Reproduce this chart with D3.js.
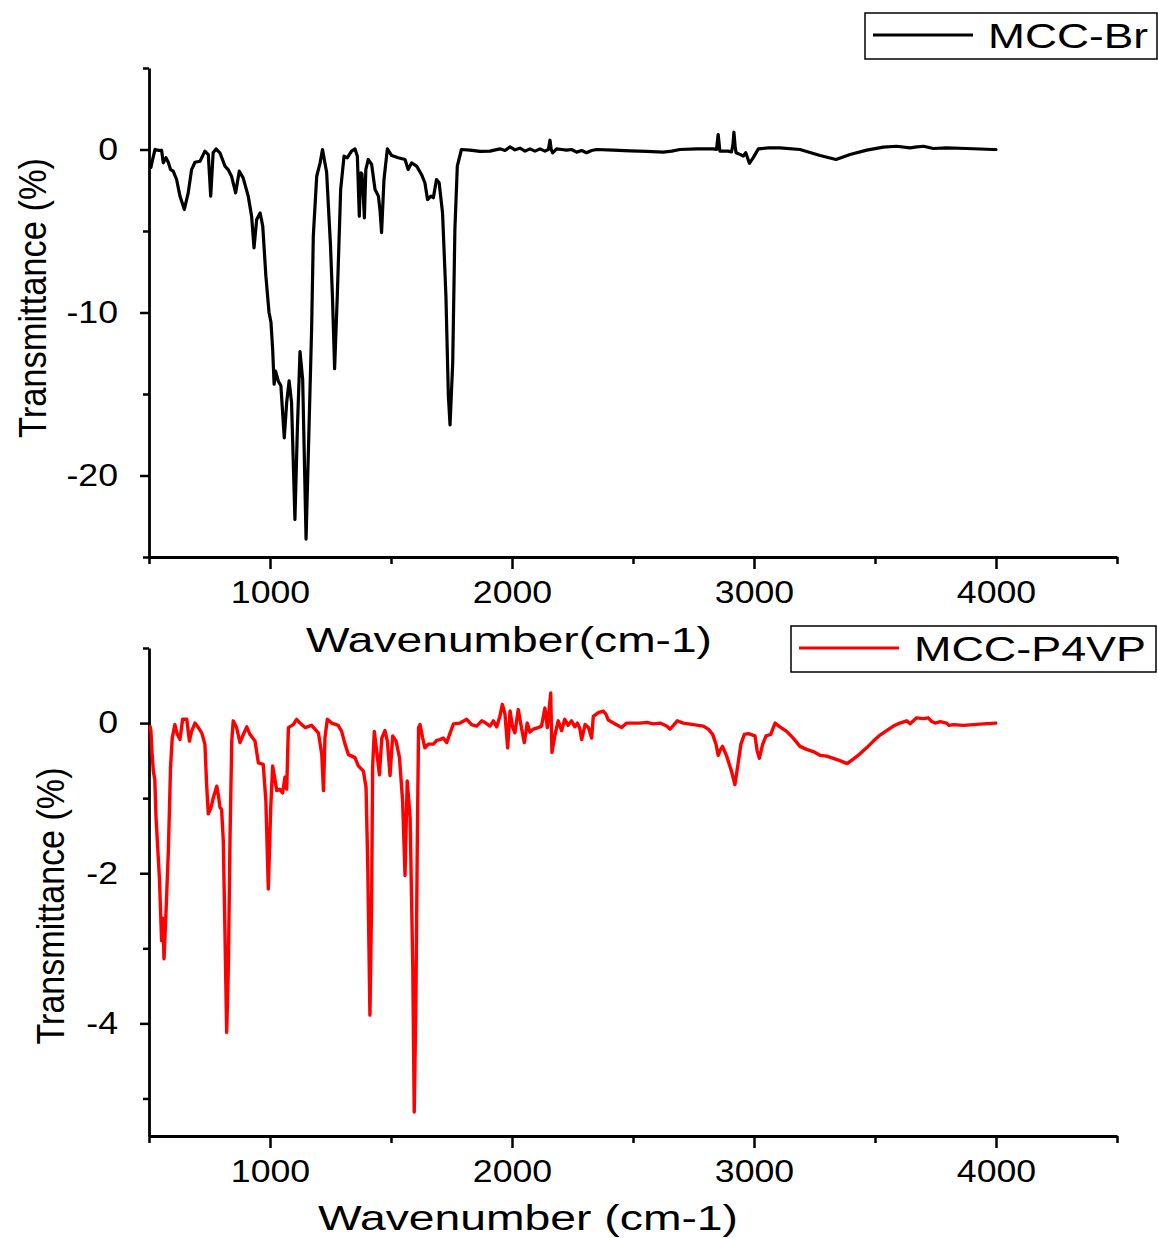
<!DOCTYPE html>
<html>
<head>
<meta charset="utf-8">
<script src="https://cdn.jsdelivr.net/npm/d3@7"></script>
<style>
  body { margin: 0; background: #fff; }
  text { font-family: "Liberation Sans", Arial, sans-serif; fill: #000; }
</style>
</head>
<body>
<script>
// wavenumber (cm-1), transmittance (%)
const brSpectrum = [[508,-1.1],[515,-0.6],[525,0],[538,-0.05],[552,-0.05],[559,-0.82],[570,-0.5],[580,-0.8],[589,-1.23],[600,-1.33],[614,-1.84],[628,-2.86],[646,-3.68],[662,-2.66],[676,-1.23],[690,-0.78],[711,-0.72],[731,-0.1],[745,-0.31],[755,-2.86],[765,-0.2],[777,0.04],[793,-0.2],[814,-1.02],[827,-1.23],[841,-1.64],[858,-2.66],[873,-1.33],[889,-1.74],[910,-2.86],[924,-4.09],[934,-6.03],[945,-4.29],[959,-3.89],[970,-4.7],[983,-7.77],[996,-10.0],[1004,-10.6],[1011,-12.27],[1017,-14.4],[1023,-13.6],[1034,-14.2],[1045,-14.5],[1059,-17.7],[1069,-15.5],[1079,-14.2],[1089,-15.5],[1103,-22.7],[1113,-17.2],[1124,-12.4],[1135,-14.1],[1149,-23.9],[1161,-17.2],[1172,-11.0],[1179,-5.3],[1193,-1.64],[1207,-0.82],[1217,0],[1234,-1.4],[1250,-5.9],[1258,-9.0],[1267,-13.45],[1278,-9.0],[1292,-2.45],[1306,-0.41],[1319,-0.51],[1337,-0.1],[1351,0.04],[1361,-0.41],[1369,-4.09],[1373,-2.0],[1376,-1.43],[1380,-1.5],[1386,-3.0],[1390,-4.19],[1396,-1.23],[1406,-0.61],[1420,-0.92],[1434,-2.45],[1448,-2.86],[1455,-3.8],[1461,-5.1],[1471,-1.84],[1485,0.04],[1503,-0.37],[1530,-0.51],[1558,-0.61],[1571,-1.23],[1585,-0.82],[1606,-1.02],[1626,-1.53],[1640,-2.04],[1651,-3.07],[1665,-2.86],[1675,-2.96],[1688,-1.84],[1699,-2.04],[1713,-3.88],[1727,-9.0],[1737,-15.1],[1744,-16.9],[1755,-13.1],[1764,-4.9],[1774,-1.02],[1791,0],[1826,-0.04],[1868,-0.12],[1909,-0.1],[1950,0.04],[1971,-0.06],[1992,0.16],[2012,-0.02],[2033,0.08],[2054,-0.1],[2074,0.04],[2095,-0.1],[2116,0.04],[2136,-0.1],[2150,0.0],[2157,0.57],[2162,0.0],[2168,-0.2],[2184,0.04],[2205,0.0],[2226,-0.04],[2246,0.0],[2267,-0.16],[2288,-0.06],[2308,-0.2],[2329,-0.06],[2350,0.0],[2418,-0.04],[2488,-0.08],[2557,-0.12],[2625,-0.16],[2660,-0.1],[2694,0.0],[2763,0.04],[2832,0.04],[2845,0.0],[2852,0.92],[2859,-0.1],[2893,-0.1],[2907,-0.15],[2913,0.3],[2917,1.06],[2922,0.2],[2926,-0.2],[2942,-0.3],[2956,-0.4],[2966,-0.2],[2981,-0.85],[2997,-0.5],[3018,0.04],[3060,0.1],[3107,0.1],[3190,0.0],[3273,-0.37],[3339,-0.61],[3397,-0.31],[3466,-0.04],[3534,0.15],[3589,0.2],[3645,0.1],[3665,0.15],[3700,0.2],[3741,0.06],[3796,0.1],[3878,0.06],[3989,0.0],[4000,0.0]];

const p4vpSpectrum = [[505,-0.05],[508,-0.11],[512,-0.37],[518,-0.64],[524,-0.75],[529,-1.26],[543,-2.06],[552,-2.9],[557,-2.6],[562,-3.14],[570,-2.54],[580,-1.7],[589,-0.59],[596,-0.2],[607,-0.02],[617,-0.15],[628,-0.22],[639,0.05],[656,0.05],[667,-0.24],[676,-0.11],[690,0.0],[704,-0.06],[718,-0.13],[731,-0.28],[738,-0.81],[745,-1.21],[756,-1.13],[766,-0.99],[780,-0.84],[788,-0.99],[793,-1.12],[800,-1.15],[807,-1.57],[814,-2.81],[821,-4.12],[828,-3.25],[835,-1.48],[842,-0.24],[848,0.03],[862,-0.06],[876,-0.26],[890,-0.15],[904,-0.05],[917,-0.15],[938,-0.24],[952,-0.53],[972,-0.55],[983,-1.04],[993,-2.21],[1003,-1.13],[1011,-0.57],[1028,-0.9],[1040,-0.88],[1052,-0.93],[1062,-0.72],[1069,-0.88],[1076,-0.06],[1096,-0.02],[1110,0.05],[1124,0.0],[1145,-0.06],[1172,-0.03],[1200,-0.13],[1214,-0.42],[1221,-0.9],[1227,-0.2],[1237,0.05],[1255,0.0],[1282,-0.03],[1296,-0.11],[1310,-0.28],[1324,-0.42],[1338,-0.44],[1351,-0.46],[1365,-0.57],[1386,-0.64],[1397,-0.86],[1404,-1.92],[1413,-3.89],[1420,-2.37],[1424,-0.59],[1431,-0.11],[1441,-0.37],[1452,-0.69],[1462,-0.2],[1475,-0.1],[1485,-0.24],[1496,-0.7],[1507,-0.17],[1521,-0.24],[1535,-0.46],[1548,-1.04],[1558,-2.03],[1567,-0.77],[1579,-1.26],[1590,-3.25],[1596,-5.18],[1603,-3.69],[1609,-1.48],[1614,-0.06],[1620,-0.02],[1631,-0.2],[1640,-0.33],[1654,-0.28],[1675,-0.28],[1689,-0.23],[1702,-0.22],[1716,-0.2],[1730,-0.26],[1758,-0.01],[1785,0.0],[1813,0.05],[1833,-0.02],[1854,-0.04],[1875,0.03],[1892,0.0],[1909,-0.04],[1923,0.03],[1937,-0.05],[1950,0.09],[1960,0.25],[1971,0.12],[1982,-0.33],[1992,0.16],[2002,-0.05],[2012,-0.13],[2026,0.18],[2040,-0.08],[2051,-0.26],[2063,0.0],[2074,-0.12],[2088,-0.08],[2108,-0.06],[2122,-0.04],[2136,0.2],[2146,-0.06],[2160,0.4],[2165,-0.39],[2178,-0.15],[2191,0.03],[2205,-0.1],[2218,0.05],[2232,-0.03],[2246,0.03],[2260,-0.05],[2270,0.0],[2280,-0.07],[2288,-0.22],[2302,-0.02],[2316,-0.06],[2329,-0.2],[2336,0.09],[2357,0.14],[2377,0.16],[2388,0.12],[2398,0.04],[2419,0.0],[2453,-0.06],[2474,0.0],[2501,0.0],[2529,0.0],[2557,0.01],[2584,-0.01],[2612,0.0],[2639,-0.04],[2653,-0.08],[2667,-0.03],[2683,0.03],[2708,0.0],[2750,-0.02],[2791,-0.04],[2811,-0.08],[2829,-0.15],[2843,-0.28],[2852,-0.43],[2860,-0.36],[2870,-0.31],[2887,-0.44],[2907,-0.64],[2921,-0.82],[2932,-0.59],[2946,-0.28],[2960,-0.15],[2977,-0.14],[3004,-0.17],[3013,-0.37],[3022,-0.47],[3036,-0.28],[3050,-0.17],[3069,-0.15],[3087,0.0],[3107,-0.05],[3135,-0.11],[3162,-0.2],[3190,-0.31],[3217,-0.35],[3245,-0.38],[3273,-0.43],[3300,-0.44],[3328,-0.47],[3355,-0.5],[3385,-0.54],[3410,-0.48],[3438,-0.41],[3465,-0.33],[3493,-0.24],[3521,-0.16],[3548,-0.1],[3576,-0.04],[3603,0.0],[3631,0.03],[3645,-0.01],[3672,0.07],[3700,0.06],[3720,0.07],[3735,0.02],[3748,0.0],[3770,0.02],[3796,0.0],[3805,-0.03],[3824,-0.02],[3865,-0.03],[3907,-0.02],[3948,-0.01],[3999,0.0]];

const xMajorTicks = [1000, 2000, 3000, 4000];
const xMinorTicks = [500, 1500, 2500, 3500, 4500];
const brYMajor = [0, -10, -20];
const brYMinor = [5, -5, -15, -25];
const p4vpYMajor = [0, -2, -4];
const p4vpYMinor = [1, -1, -3, -5];

const W = 1158, H = 1238;
const svg = d3.select('body').append('svg')
  .attr('width', W)
  .attr('height', H);

// text in the original is stretched sideways a bit
function stretch(sel, factor) {
  sel.each(function() {
    const len = this.getComputedTextLength();
    d3.select(this).attr('textLength', len * factor).attr('lengthAdjust', 'spacingAndGlyphs');
  });
}

const plain = d => String(d);

function panel(o) {
  const x = d3.scaleLinear().domain([500, 4500]).range([149, 1117]);
  const y = d3.scaleLinear().domain(o.yDomain).range([o.bottom, o.top]);
  const g = svg.append('g');

  // minor ticks
  g.append('g')
    .attr('transform', `translate(0,${o.bottom})`)
    .call(d3.axisBottom(x).tickValues(xMinorTicks).tickSize(7).tickFormat('').tickSizeOuter(0))
    .call(a => a.select('.domain').remove());
  g.append('g')
    .attr('transform', 'translate(149,0)')
    .call(d3.axisLeft(y).tickValues(o.yMinor).tickSize(6).tickFormat('').tickSizeOuter(0))
    .call(a => a.select('.domain').remove());

  g.append('g')
    .attr('transform', `translate(0,${o.bottom})`)
    .call(d3.axisBottom(x).tickValues(xMajorTicks).tickFormat(plain).tickSize(12).tickPadding(12).tickSizeOuter(0));
  g.append('g')
    .attr('transform', 'translate(149,0)')
    .call(d3.axisLeft(y).tickValues(o.yMajor).tickFormat(plain).tickSize(9).tickPadding(22).tickSizeOuter(0));

  g.selectAll('.tick line').attr('stroke', '#000').attr('stroke-width', 2.5);
  g.selectAll('.domain').attr('stroke', '#000').attr('stroke-width', 2.8);
  g.selectAll('.tick text').attr('font-size', 31).attr('font-family', '"Liberation Sans", Arial, sans-serif');
  stretch(g.selectAll('.tick text'), 1.15);

  const line = d3.line()
    .x(d => x(d[0]))
    .y(d => y(d[1]));

  g.append('path')
    .datum(o.data)
    .attr('fill', 'none')
    .attr('stroke', o.color)
    .attr('stroke-width', o.lineWidth)
    .attr('stroke-linejoin', 'round')
    .attr('stroke-linecap', 'round')
    .attr('d', line);

  // axis titles
  g.append('text')
    .attr('x', o.xTitleX).attr('y', o.xTitleY)
    .attr('text-anchor', 'middle')
    .attr('font-size', 35)
    .attr('textLength', o.xTitleLen).attr('lengthAdjust', 'spacingAndGlyphs')
    .text(o.xTitle);
  g.append('text')
    .attr('transform', `translate(${o.yTitleX},${o.yTitleY}) rotate(-90)`)
    .attr('text-anchor', 'middle')
    .attr('font-size', 38)
    .attr('textLength', o.yTitleLen).attr('lengthAdjust', 'spacingAndGlyphs')
    .text('Transmittance (%)');

  // legend
  const lg = o.legend;
  g.append('rect')
    .attr('x', lg.x).attr('y', lg.y).attr('width', lg.w).attr('height', lg.h)
    .attr('fill', '#fff').attr('stroke', '#000').attr('stroke-width', 1.5);
  g.append('line')
    .attr('x1', lg.x + 8).attr('x2', lg.x + 108)
    .attr('y1', lg.y + 22).attr('y2', lg.y + 22)
    .attr('stroke', o.color).attr('stroke-width', 2.8);
  g.append('text')
    .attr('x', lg.x + 123).attr('y', lg.y + 35)
    .attr('font-size', 35)
    .attr('textLength', lg.textLen).attr('lengthAdjust', 'spacingAndGlyphs')
    .text(lg.label);
}

panel({
  data: brSpectrum, color: '#000', lineWidth: 3.2,
  yDomain: [-25, 5], top: 68, bottom: 557,
  yMajor: brYMajor, yMinor: brYMinor,
  xTitle: 'Wavenumber(cm-1)', xTitleX: 509, xTitleY: 652, xTitleLen: 406,
  yTitleX: 46, yTitleY: 298, yTitleLen: 280,
  legend: {x: 865, y: 13, w: 292, h: 46, label: 'MCC-Br', textLen: 160}
});

panel({
  data: p4vpSpectrum, color: '#ff0000', lineWidth: 3.4,
  yDomain: [-5.5, 1], top: 648, bottom: 1136,
  yMajor: p4vpYMajor, yMinor: p4vpYMinor,
  xTitle: 'Wavenumber (cm-1)', xTitleX: 528, xTitleY: 1230, xTitleLen: 420,
  yTitleX: 64, yTitleY: 906, yTitleLen: 277,
  legend: {x: 791, y: 626, w: 365, h: 46, label: 'MCC-P4VP', textLen: 232}
});
</script>
</body>
</html>
